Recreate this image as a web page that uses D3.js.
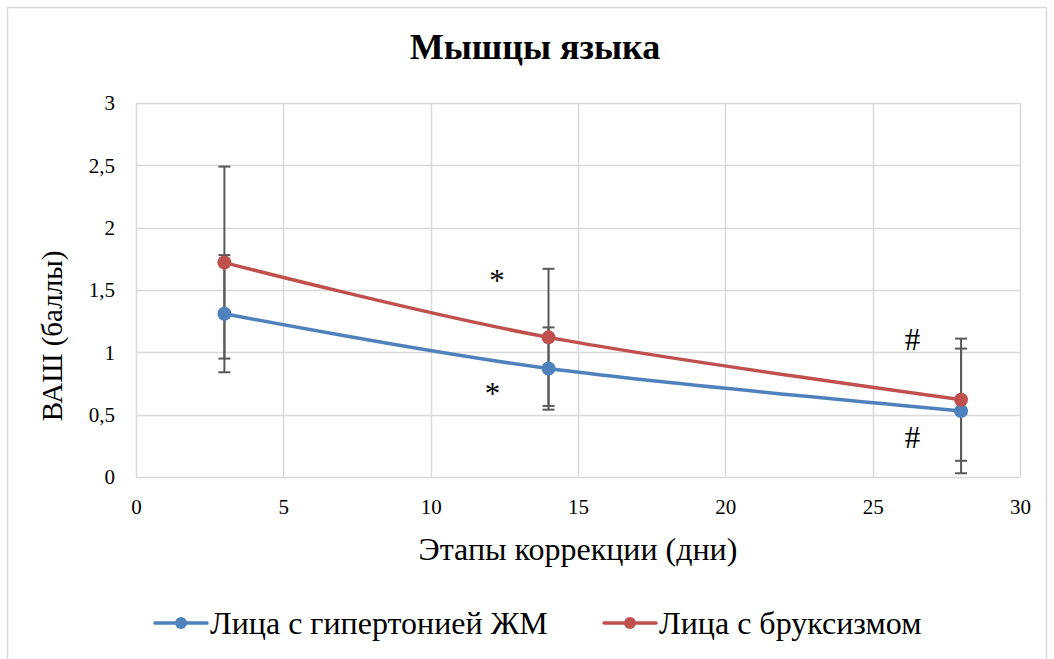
<!DOCTYPE html>
<html>
<head>
<meta charset="utf-8">
<script src="https://cdn.jsdelivr.net/npm/d3@7/dist/d3.min.js"></script>
<style>
  html, body { margin: 0; padding: 0; background: #fff; }
  svg { display: block; }
  svg text { font-family: "Liberation Serif", "Times New Roman", Times, "DejaVu Serif", serif; fill: #000; }
</style>
</head>
<body>
<svg id="chart" width="1054" height="659"></svg>
<script>
// Days of correction
const days = [3, 14, 28];
// Mean VAS scores and standard deviations per group
const hypertoniaMean = [1.31, 0.87, 0.53];
const hypertoniaSD   = [0.47, 0.33, 0.50];
const bruxismMean    = [1.72, 1.12, 0.62];
const bruxismSD      = [0.77, 0.55, 0.49];
// Axis ticks
const xTicks = [0, 5, 10, 15, 20, 25, 30];
const yTicks = [0, 0.5, 1, 1.5, 2, 2.5, 3];
// Significance marks: [day, score, symbol]
const marks = [[12.25, 1.58, "*"], [12.1, 0.67, "*"], [26.35, 1.1, "#"], [26.35, 0.32, "#"]];

const seriesNames = ["Лица с гипертонией ЖМ", "Лица с бруксизмом"];
const colors = ["#4f81bd", "#c0504d"];
const serif = '"Liberation Serif", "Times New Roman", Times, serif';

const svg = d3.select("#chart");
const x = d3.scaleLinear().domain([0, 30]).range([136, 1020]);
const y = d3.scaleLinear().domain([0, 3]).range([477, 103]);

// Chart frame
svg.append("rect").attr("x", 7.5).attr("y", 7.5).attr("width", 1039).attr("height", 700)
  .attr("fill", "none").attr("stroke", "#d9d9d9").attr("stroke-width", 1.5);

// Gridlines
svg.append("g").selectAll("line").data(yTicks).join("line")
  .attr("x1", x(0)).attr("x2", x(30))
  .attr("y1", d => Math.round(y(d)) + 0.5).attr("y2", d => Math.round(y(d)) + 0.5)
  .attr("stroke", "#d9d9d9").attr("stroke-width", 1.5);
svg.append("g").selectAll("line").data(xTicks).join("line")
  .attr("y1", y(0)).attr("y2", y(3))
  .attr("x1", d => Math.round(x(d)) + 0.5).attr("x2", d => Math.round(x(d)) + 0.5)
  .attr("stroke", "#d9d9d9").attr("stroke-width", 1.5);

// Axes (labels only, lines drawn as grid)
const xAxis = svg.append("g").attr("transform", `translate(0,${y(0)})`)
  .call(d3.axisBottom(x).tickValues(xTicks).tickSize(0).tickPadding(22).tickFormat(d3.format("d")));
xAxis.attr("font-family", serif);
xAxis.select(".domain").remove();
xAxis.selectAll("text").style("font-family", serif).attr("font-size", 21).attr("fill", "#000");

const fmt = d => String(d).replace(".", ",");
const yAxis = svg.append("g").attr("transform", `translate(${x(0)},0)`)
  .call(d3.axisLeft(y).tickValues(yTicks).tickSize(0).tickPadding(21).tickFormat(fmt));
yAxis.attr("font-family", serif);
yAxis.select(".domain").remove();
yAxis.selectAll("text").style("font-family", serif).attr("font-size", 21).attr("fill", "#000");

// Titles
svg.append("text").attr("x", 535).attr("y", 59).attr("text-anchor", "middle")
  .attr("font-size", 36).attr("font-weight", "bold").text("Мышцы языка");
svg.append("text").attr("x", 578).attr("y", 560).attr("text-anchor", "middle")
  .attr("font-size", 32).text("Этапы коррекции (дни)");
svg.append("text").attr("transform", "translate(62,336) rotate(-90)").attr("text-anchor", "middle")
  .attr("font-size", 29).text("ВАШ (баллы)");

const groups = [
  { name: seriesNames[0], mean: hypertoniaMean, sd: hypertoniaSD, color: colors[0] },
  { name: seriesNames[1], mean: bruxismMean, sd: bruxismSD, color: colors[1] }
];

// Error bars
const eb = svg.append("g").attr("stroke", "#595959").attr("stroke-width", 2);
groups.forEach(g => {
  days.forEach((d, i) => {
    const cx = x(d), hi = y(g.mean[i] + g.sd[i]), lo = y(g.mean[i] - g.sd[i]);
    eb.append("line").attr("x1", cx).attr("x2", cx).attr("y1", hi).attr("y2", lo);
    eb.append("line").attr("x1", cx - 6).attr("x2", cx + 6).attr("y1", hi).attr("y2", hi);
    eb.append("line").attr("x1", cx - 6).attr("x2", cx + 6).attr("y1", lo).attr("y2", lo);
  });
});

// Smoothed lines and markers
const line = d3.line().x(d => x(d[0])).y(d => y(d[1])).curve(d3.curveCatmullRom.alpha(0));
groups.forEach(g => {
  const pts = days.map((d, i) => [d, g.mean[i]]);
  svg.append("path").datum(pts).attr("d", line)
    .attr("fill", "none").attr("stroke", g.color).attr("stroke-width", 3.5).attr("stroke-linecap", "round");
  svg.append("g").selectAll("circle").data(pts).join("circle")
    .attr("cx", d => x(d[0])).attr("cy", d => y(d[1])).attr("r", 7).attr("fill", g.color);
});

// Significance marks
svg.append("g").selectAll("text").data(marks).join("text")
  .attr("x", d => x(d[0])).attr("y", d => y(d[1])).attr("text-anchor", "middle")
  .attr("dominant-baseline", "central").attr("font-size", 31).text(d => d[2]);

// Legend
const legend = svg.append("g");
const legendX = [155, 604];
groups.forEach((g, i) => {
  const lg = legend.append("g").attr("transform", `translate(${legendX[i]},623)`);
  lg.append("line").attr("x1", 0).attr("x2", 52).attr("y1", 0).attr("y2", 0)
    .attr("stroke", g.color).attr("stroke-width", 3.5).attr("stroke-linecap", "round");
  lg.append("circle").attr("cx", 26).attr("cy", 0).attr("r", 6).attr("fill", g.color);
  lg.append("text").attr("x", 55).attr("y", 11).attr("font-size", 32).text(g.name);
});
</script>
</body>
</html>
